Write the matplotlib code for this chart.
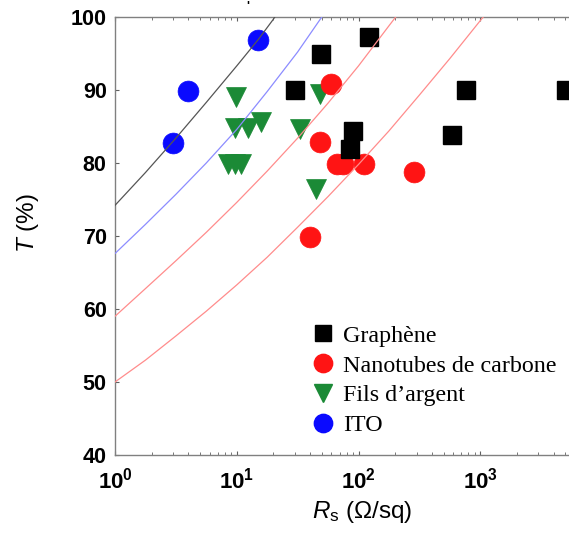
import numpy as np
import matplotlib
matplotlib.use('Agg')
import matplotlib.pyplot as plt
from matplotlib.lines import Line2D

plt.rcParams['font.family'] = ['Liberation Sans', 'DejaVu Sans']
plt.rcParams['mathtext.fontset'] = 'custom'
plt.rcParams['mathtext.rm'] = 'Liberation Sans'
plt.rcParams['mathtext.it'] = 'Liberation Sans:italic'
plt.rcParams['mathtext.bf'] = 'Liberation Sans:bold'

# points (Rs en ohm/sq, T en %)
graphene_rs = [29.9, 49.5, 123, 89.8, 85.5, 586, 763, 5070]
graphene_t = [90, 94.9, 97.3, 84.4, 81.9, 83.9, 90, 90]

cnt_rs = [58.9, 48, 66, 74, 110, 284, 39.7]
cnt_t = [90.8, 82.9, 79.9, 79.9, 79.9, 78.8, 69.8]

agnw_rs = [9.9, 9.6, 12.4, 15.9, 8.5, 9.6, 10.9, 32.8, 48, 44.4]
agnw_t = [89.0, 84.8, 84.8, 85.6, 79.8, 79.8, 79.8, 84.6, 89.5, 76.5]

ito_rs = [15, 4.0, 3.0]
ito_t = [96.8, 89.9, 82.8]

# courbes de reference
curve_black_rs = [1, 1.78, 3.16, 5.62, 10, 15, 20, 22]
curve_black_t = [74.2, 78.7, 83.4, 88.3, 93.3, 96.9, 99.7, 100.8]
curve_blue_rs = [1, 1.78, 3.16, 5.62, 10, 17.8, 31.6, 49, 55]
curve_blue_t = [67.6, 71.6, 75.7, 80.0, 84.6, 89.8, 95.2, 99.8, 101.0]
curve_red1_rs = [1, 1.78, 3.16, 5.62, 10, 17.8, 31.6, 56.2, 100, 178, 200, 230]
curve_red1_t = [59.0, 62.8, 66.6, 70.5, 74.6, 78.9, 83.4, 88.2, 93.3, 98.8, 99.9, 101.2]
curve_red2_rs = [1, 1.78, 3.16, 5.62, 10, 17.8, 31.6, 56.2, 100, 178, 316, 562, 1000, 1120]
curve_red2_t = [50.0, 53.0, 56.3, 59.7, 63.3, 67.1, 71.2, 75.4, 79.8, 84.4, 89.3, 94.3, 99.5, 100.5]

xticks = [1, 10, 100, 1000]
xticklabels = [r'$\mathbf{10^{0}}$', r'$\mathbf{10^{1}}$', r'$\mathbf{10^{2}}$', r'$\mathbf{10^{3}}$']
yticks = [40, 50, 60, 70, 80, 90, 100]

W, H = 569, 542
fig = plt.figure(figsize=(W / 100, H / 100), dpi=100)
ax = fig.add_axes([115 / W, (H - 455) / H, 487 / W, 438 / H])

green = '#1b8a36'
red = '#ff1414'
blue = '#0a0aff'

ax.plot(agnw_rs, agnw_t, 'v', color=green, ms=14, mec=green, mew=0.5, ls='none', zorder=2)
ax.plot(cnt_rs, cnt_t, 'o', color=red, ms=15, mec=red, mew=0.5, ls='none', zorder=3)
ax.plot(graphene_rs, graphene_t, 's', color='black', ms=12.5, ls='none', zorder=4)
ax.plot(ito_rs, ito_t, 'o', color=blue, ms=15, mec=blue, mew=0.5, ls='none', zorder=4)

ax.plot(curve_black_rs, curve_black_t, color='#555555', lw=0.9, zorder=5)
ax.plot(curve_blue_rs, curve_blue_t, color='#8c8cff', lw=0.9, zorder=5)
ax.plot(curve_red1_rs, curve_red1_t, color='#ff8c8c', lw=0.9, zorder=5)
ax.plot(curve_red2_rs, curve_red2_t, color='#ff8c8c', lw=0.9, zorder=5)

ax.set_xscale('log')
ax.set_xlim(1, 1e4)
ax.set_ylim(40, 100)
ax.set_xticks(xticks)
ax.set_xticklabels(xticklabels, fontsize=16)
ax.set_yticks(yticks)
ax.set_yticklabels([str(v) for v in yticks], fontweight='bold', fontsize=15.5)

for s in ax.spines.values():
    s.set_color('#808080')
    s.set_linewidth(1.0)
ax.tick_params(which='both', direction='in', top=True, right=True, color='#606060')
ax.tick_params(which='major', length=3, width=0.8)
ax.tick_params(which='minor', length=2, width=0.6)
ax.tick_params(axis='x', pad=9)
ax.tick_params(axis='y', pad=6)

fig.text(28 / W, 1 - 223 / H, r'$\mathit{T}$ (%)', rotation=90, ha='center', va='center', fontsize=17.5)
fig.text(362 / W, 1 - 512 / H, r'$\mathit{R}_\mathrm{s}$ (Ω/sq)', ha='center', va='center', fontsize=17.5)
fig.text(248 / W, 1 - 7 / H, "'", ha='center', va='center', fontsize=9, fontweight='bold')

handles = [
    Line2D([], [], marker='s', color='black', ls='none', ms=12.5),
    Line2D([], [], marker='o', color=red, ls='none', ms=15),
    Line2D([], [], marker='v', color=green, ls='none', ms=14),
    Line2D([], [], marker='o', color=blue, ls='none', ms=15),
]
labels = ['Graphène', 'Nanotubes de carbone', 'Fils d\u2019argent', 'ITO']
ax.legend(handles, labels, loc='upper left', bbox_to_anchor=(313 / W, 1 - 325 / H),
          bbox_transform=fig.transFigure, frameon=False, borderpad=0, borderaxespad=0,
          handlelength=0.8, handletextpad=0.45, labelspacing=0.33, markerscale=0.88,
          prop={'family': 'Liberation Serif', 'size': 17.3})

fig.savefig('out.png', dpi=100)
